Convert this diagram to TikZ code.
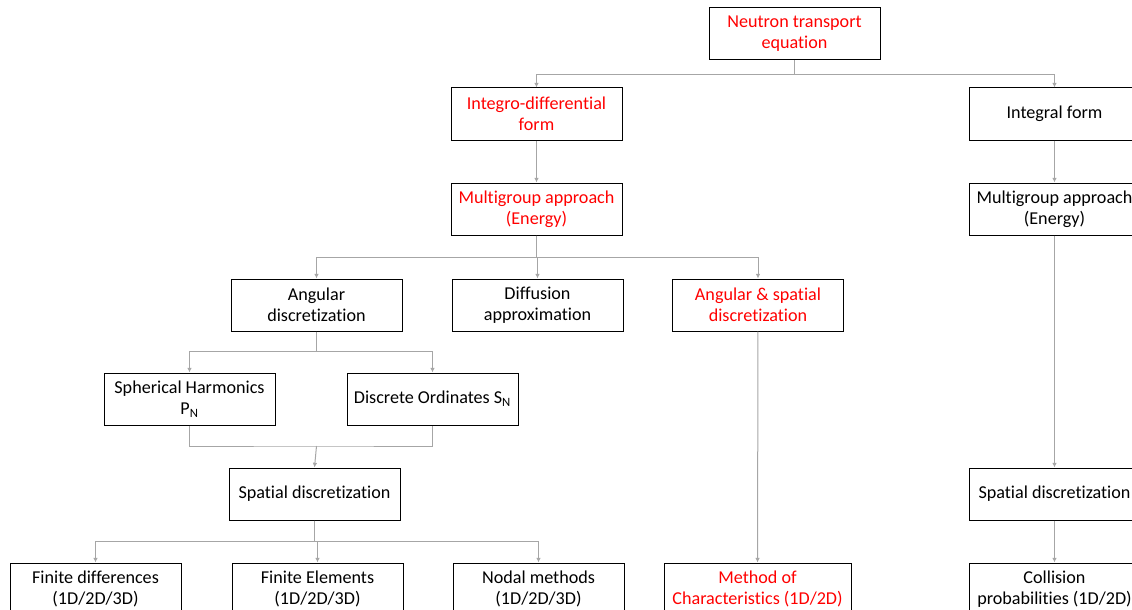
\documentclass[tikz,border=0pt]{standalone}
\usepackage{fontspec}
\setmainfont{Carlito}[RawFeature=-liga]
\usepackage{xcolor}
\usetikzlibrary{
    arrows.meta,
    positioning,
    calc
}
\definecolor{linkgray}{HTML}{A6A6A6}
\definecolor{hired}{HTML}{FF0000}

\begin{document}
\begin{tikzpicture}[x=0.75pt, y=-0.75pt,
    every node/.style={font=\fontsize{13.6pt}{15.75pt}\selectfont},
    box/.style={draw, line width=0.75pt, minimum width=128.25pt, minimum height=39pt,
        inner sep=0pt, align=center},
    keybox/.style={box, text=hired},
    link/.style={draw=linkgray, line width=0.75pt, -{Latex[length=3.5pt,width=3.5pt]}},
    line/.style={draw=linkgray, line width=0.75pt}]
    \useasboundingbox (0, 0) rectangle (1132, 610);
    % top of the tree
    \node[keybox] (nte) at (794.5, 34) {Neutron transport\\equation};
    \node[keybox] (integro) at (536.5, 114) {Integro-differential\\form};
    \node[box] (integral) at (1054.5, 114) {Integral form};
    \node[keybox] (mgleft) at (536.5, 209) {Multigroup approach\\(Energy)};
    \node[box] (mgright) at (1054.5, 209) {Multigroup approach\\(Energy)};
    % discretization level
    \node[box] (angular) at (316.5, 305) {Angular\\discretization};
    \node[box] (diffusion) at (537.5, 305) {Diffusion\\approximation};
    \node[keybox] (angspat) at (758, 305) {Angular \& spatial\\discretization};
    \node[box] (harmonics) at (189.5, 399) {Spherical Harmonics\\P\textsubscript{N}};
    \node[box] (ordinates) at (432.5, 399) {Discrete Ordinates S\textsubscript{N}};
    \node[box] (spatleft) at (314.5, 494) {Spatial discretization};
    \node[box] (spatright) at (1054.5, 494) {Spatial discretization};
    % methods
    \node[box] (findiff) at (95.5, 589) {Finite differences\\(1D/2D/3D)};
    \node[box] (finelem) at (317.5, 589) {Finite Elements\\(1D/2D/3D)};
    \node[box] (nodal) at (538.5, 589) {Nodal methods\\(1D/2D/3D)};
    \node[keybox, minimum width=140.25pt] (moc) at (757.5, 589) {Method of\\Characteristics (1D/2D)};
    \node[box] (collision) at (1054.5, 589) {Collision\\probabilities (1D/2D)};
    % connectors
    \foreach \to in {integro, integral}
        \draw[link] (nte.south) -- ++(0, 14) -| (\to.north);
    \draw[link] (integro) -- (mgleft);
    \draw[link] (integral) -- (mgright);
    \foreach \to in {angular, diffusion, angspat}
        \draw[link] (mgleft.south) -- ++(0, 22) -| (\to.north);
    \foreach \to in {harmonics, ordinates}
        \draw[link] (angular.south) -- ++(0, 20) -| (\to.north);
    \coordinate (merge) at (316.5, 446);
    \draw[line] (harmonics.south) |- (merge) -| (ordinates.south);
    \draw[link] (merge) -- (spatleft.north);
    \foreach \to in {findiff, finelem, nodal}
        \draw[link] (spatleft.south) -- ++(0, 21) -| (\to.north);
    \draw[link] (angspat) -- (moc);
    \draw[link] (mgright) -- (spatright);
    \draw[link] (spatright) -- (collision);
\end{tikzpicture}
\end{document}
